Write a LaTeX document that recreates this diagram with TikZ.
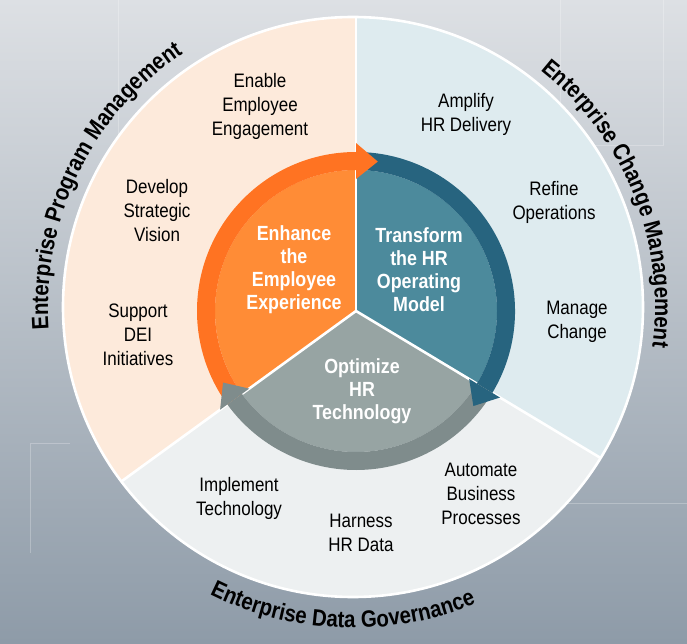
\documentclass[tikz,border=0pt]{standalone}
\usepackage{fontspec}
\setmainfont{Liberation Sans}[FakeStretch=0.87]
\usetikzlibrary{calc,decorations.text}
\definecolor{bgTop}{HTML}{DDE0E4}
\definecolor{bgMid}{HTML}{B7C0C9}
\definecolor{bgBot}{HTML}{8E9BA8}
\definecolor{outerO}{HTML}{FDEADB}
\definecolor{outerB}{HTML}{DEEBEF}
\definecolor{outerG}{HTML}{EDF0F1}
\definecolor{ringO}{HTML}{FF7322}
\definecolor{ringB}{HTML}{27647F}
\definecolor{ringG}{HTML}{7F8C8C}
\definecolor{inO}{HTML}{FF8C36}
\definecolor{inB}{HTML}{4C8A9C}
\definecolor{inG}{HTML}{97A4A3}
\newcommand\titlefont{\fontsize{23.5}{23.5}\selectfont\bfseries}
\begin{document}
\begin{tikzpicture}[x=1pt,y=1pt,
  item/.style={align=center, font=\fontsize{19.5}{24}\selectfont, text=black, inner sep=0pt},
  core/.style={align=center, font=\fontsize{20.5}{23}\selectfont\bfseries, text=white, inner sep=0pt},
  divider/.style={white, line width=2.6pt},
  bgline/.style={white, opacity=0.25, line width=0.8pt}]
% background
\shade[top color=bgTop, middle color=bgMid, bottom color=bgBot] (0,0) rectangle (687,643);
\useasboundingbox (0,0) rectangle (687,643);
\draw[bgline] (118,643) -- (118,488) -- (355,488);
\draw[bgline] (560,643) -- (560,498) -- (663,498) -- (663,643);
\draw[bgline] (30,90) -- (30,200) -- (70,200);
\draw[bgline] (560,140) -- (687,140);
\coordinate (C0) at (353,336);
\coordinate (C1) at (356,332);
% outer sectors
\begin{scope}
  \clip (C0) circle[radius=290pt];
  \fill[outerO] (C1) -- ($(C1)+(90:800pt)$) -- ($(C1)+(153:800pt)$) -- ($(C1)+(216:800pt)$) -- cycle;
  \fill[outerB] (C1) -- ($(C1)+(-31:800pt)$) -- ($(C1)+(29.5:800pt)$) -- ($(C1)+(90:800pt)$) -- cycle;
  \fill[outerG] (C1) -- ($(C1)+(216:800pt)$) -- ($(C1)+(272.5:800pt)$) -- ($(C1)+(329:800pt)$) -- cycle;
  % inner sectors
  \fill[inO] (C1) -- ($(C1)+(90:141pt)$) arc[start angle=90, end angle=216, radius=141pt] -- cycle;
  \fill[inB] (C1) -- ($(C1)+(-31:141pt)$) arc[start angle=-31, end angle=90, radius=141pt] -- cycle;
  \fill[inG] (C1) -- ($(C1)+(216:141pt)$) arc[start angle=216, end angle=329, radius=141pt] -- cycle;
  \draw[divider] (C1) -- ($(C1)+(90:800pt)$);
  \draw[divider] (C1) -- ($(C1)+(216:800pt)$);
  \draw[divider] (C1) -- ($(C1)+(329:800pt)$);
\end{scope}
\draw[white, line width=2.6pt] (C0) circle[radius=290pt];
% rings
\fill[ringO] ($(C1)+(216:141pt)$) arc[start angle=216, end angle=90, radius=141pt]
   -- ($(C1)+(90:159pt)$) arc[start angle=90, end angle=216, radius=159pt] -- cycle;
\fill[ringB] ($(C1)+(90:141pt)$) arc[start angle=90, end angle=-31, radius=141pt]
   -- ($(C1)+(-31:159pt)$) arc[start angle=-31, end angle=90, radius=159pt] -- cycle;
\fill[ringG] ($(C1)+(-31:141pt)$) arc[start angle=-31, end angle=-144, radius=141pt]
   -- ($(C1)+(-144:159pt)$) arc[start angle=-144, end angle=-31, radius=159pt] -- cycle;
% arrow heads
\fill[ringO] ($(C1)+(90:132pt)$) -- ($(C1)+(90:168pt)$) -- ($(C1)+(81.7:151pt)$) -- cycle;
\fill[ringB] ($(C1)+(-31:132pt)$) -- ($(C1)+(-31:168pt)$) -- ($(C1)+(-39:151pt)$) -- cycle;
\fill[ringG] ($(C1)+(216:132pt)$) -- ($(C1)+(216:168pt)$) -- ($(C1)+(208.3:151pt)$) -- cycle;
% arc titles
\path[decorate, decoration={text along path, text align=center,
   text={|\titlefont|Enterprise Program Management}}]
   ($(C0)+(200:305pt)$) arc[start angle=200, end angle=108, radius=305pt];
\path[decorate, decoration={text along path, text align=center,
   text={|\titlefont|Enterprise Change Management}}]
   ($(C0)+(68:302pt)$) arc[start angle=68, end angle=-24, radius=302pt];
\path[decorate, decoration={text along path, text align=center,
   text={|\titlefont|Enterprise Data Governance}}]
   ($(C0)+(224:321pt)$) arc[start angle=224, end angle=312, radius=321pt];
% items
\node[item] (enable) at (260,537) {Enable\\Employee\\Engagement};
\node[item] (develop) at (157,432) {Develop\\Strategic\\Vision};
\node[item] (support) at (138,308) {Support\\DEI\\Initiatives};
\node[item] (amplify) at (466,529) {Amplify\\HR Delivery};
\node[item] (refine) at (554,441) {Refine\\Operations};
\node[item] (manage) at (577,321) {Manage\\Change};
\node[item] (implement) at (239,145) {Implement\\Technology};
\node[item] (harness) at (361,110) {Harness\\HR Data};
\node[item] (automate) at (481,149) {Automate\\Business\\Processes};
% core
\node[core] (enhance) at (294,373) {Enhance\\the\\Employee\\Experience};
\node[core] (transform) at (419,373) {Transform\\the HR\\Operating\\Model};
\node[core] (optimize) at (362,252) {Optimize\\HR\\Technology};
\end{tikzpicture}
\end{document}
